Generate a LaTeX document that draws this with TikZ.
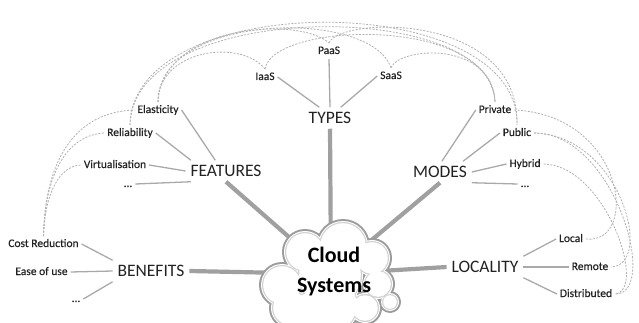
\documentclass[tikz,border=0pt]{standalone}
\usepackage{fontspec}
\setmainfont{Carlito}
\newfontfamily\leaffont[FakeBold=0.35]{Carlito}
\definecolor{txt}{HTML}{222222}
\definecolor{thinc}{HTML}{A9A9A9}
\definecolor{thickc}{HTML}{A0A0A0}
\definecolor{dashc}{HTML}{B0B0B0}
\definecolor{cedge}{HTML}{9C9C9C}
\definecolor{cin}{HTML}{D2D2D2}
\begin{document}
\begin{tikzpicture}[x=1pt,y=-1pt,
  leaf/.style={font=\leaffont\fontsize{11.5}{13}\selectfont, text=txt, text height=8pt, text depth=2pt, inner sep=2pt, outer sep=1pt},
  cat/.style={font=\fontsize{17.5}{20}\selectfont, text=txt, text height=11.5pt, text depth=0pt, inner sep=3pt, outer sep=2pt},
  tline/.style={draw=thinc, line width=1.3pt},
  bline/.style={draw=thickc, line width=4.2pt},
  dline/.style={draw=dashc, line width=0.8pt, dash pattern=on 2pt off 1.4pt},
  cloudtxt/.style={font=\fontsize{22}{30}\selectfont\bfseries, text=black, align=center, inner sep=0pt}
]
\useasboundingbox (0,0) rectangle (639,323);

% category nodes
\node[cat] (types) at (330,118) {TYPES};
\node[cat] (features) at (226,171) {FEATURES};
\node[cat] (modes) at (440,172) {MODES};
\node[cat] (benefits) at (151,271) {BENEFITS};
\node[cat] (locality) at (485,267) {LOCALITY};
% leaves
\node[leaf] (iaas) at (265,77) {IaaS};
\node[leaf] (paas) at (329,51) {PaaS};
\node[leaf] (saas) at (391,76) {SaaS};
\node[leaf] (elas) at (158,110) {Elasticity};
\node[leaf] (reli) at (130,133) {Reliability};
\node[leaf] (virt) at (115,165) {Virtualisation};
\node[leaf] (fdots) at (128,184) {...};
\node[leaf] (priv) at (495,110) {Private};
\node[leaf] (publ) at (517,133) {Public};
\node[leaf] (hybr) at (525,164) {Hybrid};
\node[leaf] (mdots) at (525,184) {...};
\node[leaf] (cost) at (43.5,244) {Cost Reduction};
\node[leaf] (ease) at (41.5,272) {Ease of use};
\node[leaf] (bdots) at (76,299) {...};
\node[leaf] (local) at (571,239) {Local};
\node[leaf] (remote) at (590,267) {Remote};
\node[leaf] (distr) at (586,294) {Distributed};
\coordinate (core) at (331,274);

% thin connectors
\draw[tline] (iaas.east) -- (types.135);
\draw[tline] (paas.south) -- (types.north);
\draw[tline] (saas.west) -- (types.45);
\draw[tline] (elas.east) -- (features.135);
\draw[tline] (reli.east) -- (features.163);
\draw[tline] (virt.east) -- (features.west);
\draw[tline] (fdots.east) -- (features.197);
\draw[tline] (cost.east) -- (benefits.north west);
\draw[tline] (ease.east) -- (benefits.west);
\draw[tline] (bdots.east) -- (benefits.south west);
\draw[tline] (priv.west) -- (modes.80);
\draw[tline] (publ.west) -- (modes.25);
\draw[tline] (hybr.west) -- (modes.east);
\draw[tline] (mdots.west) -- (modes.south east);
\draw[tline] (local.west) -- (locality.north east);
\draw[tline] (remote.west) -- (locality.east);
\draw[tline] (distr.west) -- (locality.south east);

% dashed associations
\draw[dline] (cost.north) .. controls (45,160) and (75,112) .. (elas.west);
\draw[dline] (cost.north) .. controls (45,172) and (68,135) .. (reli.west);
\draw[dline] (cost.north) .. controls (45,192) and (60,166) .. (virt.west);
\draw[dline] (elas.north) .. controls (158,50) and (240,38) .. (iaas.north);
\draw[dline] (elas.north) .. controls (162,24) and (300,16) .. (paas.north);
\draw[dline] (elas.north) .. controls (158,12) and (372,8) .. (saas.north);
\draw[dline] (reli.north) .. controls (133,-2) and (495,-2) .. (priv.north);
\draw[dline] (reli.north) .. controls (132,-12) and (520,-12) .. (publ.north);
\draw[dline] (iaas.north) .. controls (272,22) and (490,14) .. (priv.north);
\draw[dline] (paas.north) .. controls (340,16) and (520,12) .. (publ.north);
\draw[dline] (saas.north) .. controls (398,47) and (492,40) .. (priv.north);
\draw[dline] (priv.east) .. controls (625,115) and (640,245) .. (local.east);
\draw[dline] (publ.east) .. controls (620,135) and (655,265) .. (remote.east);
\draw[dline] (publ.east) .. controls (615,133) and (660,295) .. (distr.east);
\draw[dline] (hybr.east) .. controls (605,165) and (648,290) .. (distr.east);

% thick connectors to the cloud
\draw[bline] (types.south) -- (core);
\draw[bline] (features.south) -- (core);
\draw[bline] (modes.south) -- (core);
\draw[bline] (benefits.east) -- (core);
\draw[bline] (locality.west) -- (core);

% cloud
\def\cloudlist{305/252/20, 343/246/24, 372/258/17, 378/284/14, 282/285/20, 290/308/18, 310/312/20, 330/305/28, 365/308/14, 330/275/32, 390/302/8}
\foreach \cx/\cy/\cr in \cloudlist { \fill[cedge] (\cx,\cy) circle[radius={\cr pt+3pt}]; }
\foreach \cx/\cy/\cr in \cloudlist { \fill[white] (\cx,\cy) circle[radius={\cr pt+1pt}]; }
\foreach \cx/\cy/\cr in \cloudlist { \fill[cin] (\cx,\cy) circle[radius={\cr pt}]; }
\foreach \cx/\cy/\cr in \cloudlist { \fill[white] (\cx,\cy) circle[radius={\cr pt-1.2pt}]; }
\node[cloudtxt] (cloudtext) at (334,272) {Cloud\\Systems};
\end{tikzpicture}
\end{document}
